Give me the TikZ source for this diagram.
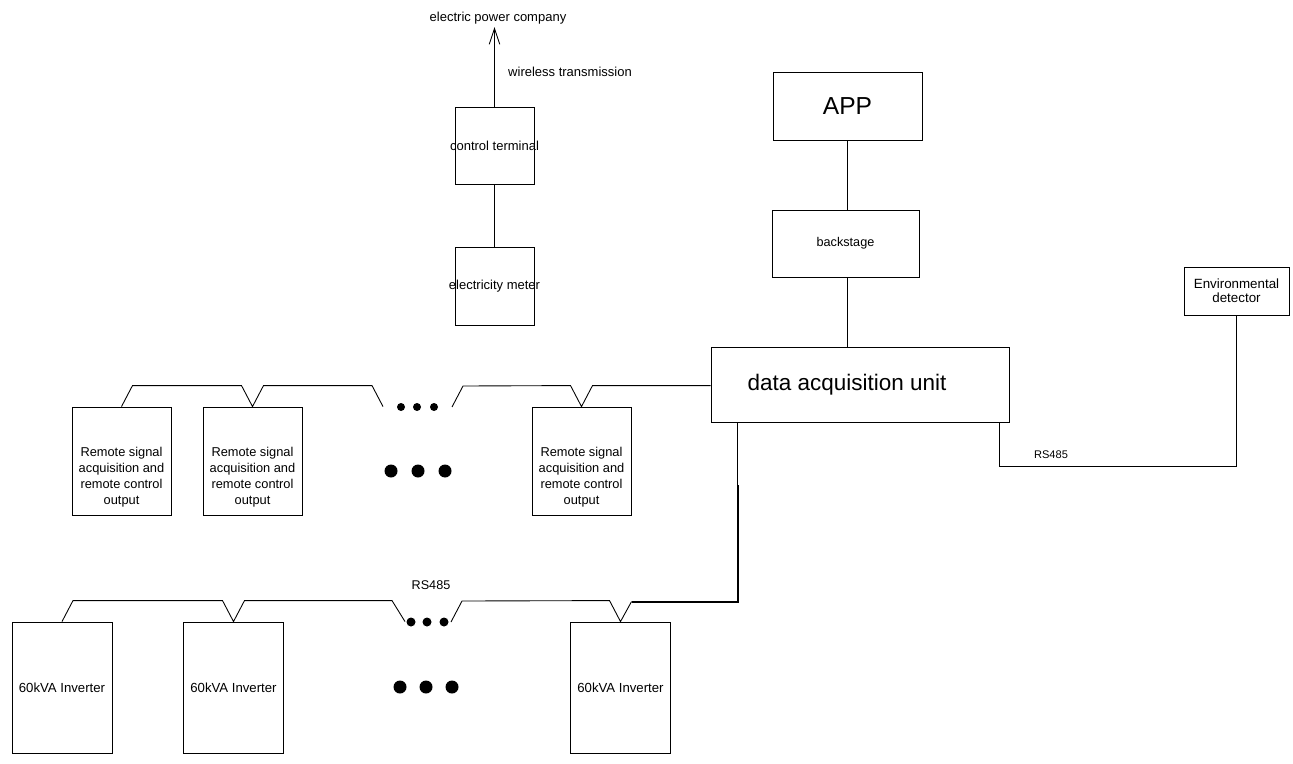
\documentclass[tikz,border=0pt]{standalone}
\usepackage{fontspec}
\setmainfont{Liberation Sans}
\usetikzlibrary{positioning,calc,arrows.meta}

\begin{document}
\begin{tikzpicture}[x=0.02cm,y=-0.02cm,line width=0.5pt,
    box/.style={draw,inner sep=1pt,align=center,font=\fontsize{7.4}{9}\selectfont},
    rsbox/.style={box,minimum width=1.98cm,minimum height=2.16cm,
      label={[font=\fontsize{7.3}{9}\selectfont,align=center,yshift=-0.32cm]center:Remote signal\\acquisition and\\remote control\\output}},
    invbox/.style={box,minimum width=2cm,minimum height=2.62cm,font=\fontsize{7.5}{9}\selectfont},
    lbl/.style={inner sep=1pt,font=\fontsize{7.4}{9}\selectfont}]
    \useasboundingbox (0,0) rectangle (1293,763);
    % Meter and control terminal
    \node[box,inner xsep=-3.5pt,minimum width=1.58cm,minimum height=1.54cm] (ct) at (494.5,145.5) {control terminal};
    \node[box,inner xsep=-3.5pt,minimum width=1.58cm,minimum height=1.56cm] (meter) at (494.5,286) {electricity meter};
    \node[lbl] (epc) at (498,18) {electric power company};
    \node[lbl] (wt) at (570,72) {wireless transmission};
    \draw (meter) -- (ct);
    \draw[-{Straight Barb[length=9pt,width=6pt]},shorten >=0.5pt] (ct.north) -- (ct.north |- epc.south);
    % APP, backstage, data acquisition unit
    \node[box,minimum width=2.98cm,minimum height=1.36cm,font=\fontsize{14}{16}\selectfont] (app) at (847.5,106) {APP};
    \node[box,minimum width=2.94cm,minimum height=1.34cm,font=\fontsize{7.2}{9}\selectfont] (back) at (845.5,243.5) {backstage};
    \node[box,minimum width=5.96cm,minimum height=1.5cm,
      label={[font=\fontsize{12.8}{15}\selectfont,xshift=-0.26cm]center:data acquisition unit}] (dau) at (860,384.5) {};
    \draw (app) -- (app |- back.north);
    \draw (back.south -| app) -- (app |- dau.north);
    % Environmental detector
    \node[box,minimum width=2.1cm,minimum height=0.96cm,font=\fontsize{7.6}{8.2}\selectfont] (env) at (1236.5,291) {Environmental\\detector};
    \draw (env.south) -- ++(0,151) -| ($(dau.south east)+(-10,0)$);
    \node[lbl,font=\fontsize{6.3}{8}\selectfont] (rsr) at (1051,455) {RS485};
    % Remote signal boxes
    \node[rsbox] (rs1) at (121.5,461) {};
    \node[rsbox] (rs2) at (252.5,461) {};
    \node[rsbox] (rs3) at (581.5,461) {};
    \draw (rs1.north) -- ++(11,-21) -- ($(rs2.north)+(-11,-21)$) -- (rs2.north) -- ++(11,-21) -- ++(108.5,0) -- ++(11,21);
    \coordinate (rsgap) at (452,407);
    \draw (rsgap) -- ++(11,-21) -- ($(rs3.north)+(-11,-21)$) -- (rs3.north) -- ++(11,-21) coordinate (r3t) -- (r3t -| dau.west);
    \foreach \x in {401,417,434} \fill (\x,407) circle (4);
    \foreach \x in {391,418,445} \fill (\x,471) circle (6.5);
    % Inverters
    \node[invbox] (inv1) at (62,687.5) {60kVA Inverter};
    \node[invbox] (inv2) at (233.5,687.5) {60kVA Inverter};
    \node[invbox] (inv3) at (620.5,687.5) {60kVA Inverter};
    \node[lbl,font=\fontsize{7.2}{9}\selectfont] (rsl) at (431,585) {RS485};
    \draw (inv1.north) -- ++(11,-21) -- ($(inv2.north)+(-11,-21)$) -- (inv2.north) -- ++(11,-21) -- ++(147.5,0) -- ++(13,21);
    \coordinate (invgap) at (451,622);
    \draw (invgap) -- ++(11,-21) -- ($(inv3.north)+(-11,-21)$) -- (inv3.north) -- ++(11,-20) coordinate (i3t);
    \draw (dau.south west) ++(27,0) coordinate (dtap) -- ++(0,63) coordinate (dmid);
    \draw[line width=1.2pt] (i3t) -| (dmid);
    \foreach \x in {411,427,444} \fill (\x,622) circle (4.5);
    \foreach \x in {400,426,452} \fill (\x,687) circle (6.5);
\end{tikzpicture}
\end{document}
